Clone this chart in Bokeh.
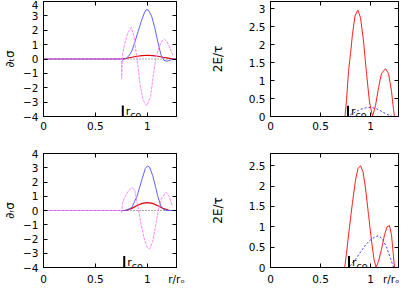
from bokeh.plotting import figure
from bokeh.models import FixedTicker, LinearAxis, Range1d
from bokeh.layouts import column, row
from bokeh.embed import file_html
from bokeh.resources import INLINE
from bokeh.core.properties import value

FONT = "DejaVu Sans"
X_MAX = 1.28

# ---------------- data ----------------
# top-left: d_t sigma
tl_blue_x = [0, 0.75, 0.76, 0.78, 0.80, 0.82, 0.85, 0.88, 0.91, 0.94, 0.97, 0.99, 1.01, 1.04, 1.07, 1.10, 1.13, 1.16, 1.19, 1.22, 1.25, 1.28]
tl_blue_y = [0, 0, -0.1, 0, 0.08, 0.2, 0.55, 1.2, 1.9, 2.6, 3.2, 3.44, 3.4, 3.0, 2.2, 1.2, 0.3, -0.1, -0.15, -0.08, 0, 0]
tl_red_x = [0, 0.75, 0.80, 0.85, 0.90, 0.95, 1.00, 1.05, 1.10, 1.15, 1.20, 1.25, 1.28]
tl_red_y = [0, 0, 0.05, 0.12, 0.19, 0.24, 0.26, 0.24, 0.19, 0.12, 0.06, 0, 0]
tl_mag_x = [0, 0.75, 0.752, 0.76, 0.78, 0.81, 0.845, 0.87, 0.90, 0.93, 0.96, 0.995, 1.03, 1.06, 1.08, 1.11, 1.14, 1.165, 1.19, 1.22, 1.25]
tl_mag_y = [0, 0, -1.35, 0.3, 1.0, 1.8, 2.2, 1.6, 0, -1.8, -2.9, -3.25, -2.6, -1.0, 0, 0.8, 1.25, 1.37, 1.2, 0.7, 0.2]
tl_rco_x = [0.763]
tl_rco_y0 = [-4.0]
tl_rco_y1 = [-3.24]

# top-right: 2E/tau
tr_red_x = [0, 0.745, 0.76, 0.78, 0.80, 0.82, 0.845, 0.874, 0.90, 0.93, 0.96, 0.99, 1.02, 1.05, 1.08, 1.11, 1.15, 1.18, 1.21, 1.23, 1.24, 1.28]
tr_red_y = [0, 0, 0.45, 1.25, 1.75, 2.3, 2.8, 2.96, 2.75, 2.1, 1.2, 0.4, 0, 0.3, 0.8, 1.2, 1.33, 1.2, 0.7, 0.2, 0, 0]
tr_blue_x = [0, 0.76, 0.80, 0.85, 0.90, 0.95, 1.00, 1.05, 1.10, 1.15, 1.20, 1.22, 1.28]
tr_blue_y = [0, 0, 0.05, 0.13, 0.2, 0.24, 0.25, 0.23, 0.16, 0.08, 0.02, 0, 0]
tr_rco_x = [0.775]
tr_rco_y0 = [0.0]
tr_rco_y1 = [0.3]

# bottom-left: d_r sigma
bl_blue_x = [0, 0.76, 0.78, 0.81, 0.85, 0.90, 0.95, 0.98, 1.00, 1.02, 1.05, 1.08, 1.10, 1.13, 1.16, 1.20, 1.28]
bl_blue_y = [0, 0, 0, 0.05, 0.22, 1.0, 2.24, 2.95, 3.12, 3.05, 2.47, 1.6, 1.0, 0.3, 0.05, 0, 0]
bl_red_x = [0, 0.78, 0.80, 0.85, 0.90, 0.95, 1.00, 1.05, 1.10, 1.15, 1.20, 1.22, 1.28]
bl_red_y = [0, 0, 0.03, 0.15, 0.35, 0.5, 0.55, 0.5, 0.33, 0.15, 0.03, 0, 0]
bl_mag_x = [0, 0.75, 0.752, 0.76, 0.78, 0.81, 0.835, 0.858, 0.88, 0.91, 0.94, 0.97, 1.00, 1.02, 1.05, 1.08, 1.11, 1.14, 1.18, 1.21, 1.24]
bl_mag_y = [0, 0, -0.15, 0.5, 0.9, 1.3, 1.52, 1.6, 1.35, 0.2, -1.0, -2.0, -2.6, -2.7, -2.2, -1.0, 0.2, 0.9, 1.28, 1.0, 0.3]
bl_rco_x = [0.777]
bl_rco_y0 = [-4.0]
bl_rco_y1 = [-3.2]

# bottom-right: 2E/tau
br_red_x = [0, 0.742, 0.76, 0.785, 0.82, 0.85, 0.875, 0.90, 0.925, 0.95, 0.98, 1.01, 1.035, 1.056, 1.08, 1.11, 1.14, 1.165, 1.19, 1.21, 1.225, 1.24, 1.28]
br_red_y = [0, 0, 0.35, 0.9, 1.6, 2.15, 2.43, 2.5, 2.35, 1.95, 1.3, 0.65, 0.2, 0, 0.15, 0.45, 0.8, 1.0, 1.03, 0.8, 0.4, 0, 0]
br_blue_x = [0, 0.77, 0.80, 0.85, 0.90, 0.95, 1.00, 1.05, 1.083, 1.12, 1.16, 1.20, 1.232, 1.28]
br_blue_y = [0, 0, 0.05, 0.2, 0.38, 0.55, 0.68, 0.76, 0.78, 0.7, 0.5, 0.22, 0, 0]
br_rco_x = [0.785]
br_rco_y0 = [0.0]
br_rco_y1 = [0.285]

x_ticks = [0, 0.5, 1]
x_ticks_bottom = [0, 0.5, 1, X_MAX]
x_tick_labels_bottom = {X_MAX: "r/rₒ"}
y_ticks_sigma = [-4, -3, -2, -1, 0, 1, 2, 3, 4]
y_ticks_tr = [0, 0.5, 1, 1.5, 2, 2.5, 3]
y_ticks_br = [0, 0.5, 1, 1.5, 2, 2.5]
zero_x = [0, X_MAX]
zero_y = [0, 0]


def make_fig(width, height, mbl, mbr, mbt, mbb, yr, yticks, xticks, overrides, ylabel, lab_standoff):
    p = figure(width=width, height=height, output_backend="svg", toolbar_location=None,
               x_range=Range1d(0, X_MAX), y_range=Range1d(*yr),
               min_border_left=mbl, min_border_right=mbr, min_border_top=mbt, min_border_bottom=mbb,
               background_fill_color="white", border_fill_color="white")
    p.grid.visible = False
    p.outline_line_color = "black"
    p.outline_line_width = 1
    p.xaxis.ticker = FixedTicker(ticks=xticks)
    p.yaxis.ticker = FixedTicker(ticks=yticks)
    if overrides:
        p.xaxis.major_label_overrides = overrides
    for ax in p.xaxis + p.yaxis:
        ax.major_tick_in = 4
        ax.major_tick_out = 0
        ax.minor_tick_in = 0
        ax.minor_tick_out = 0
        ax.major_label_standoff = 5
        ax.major_label_text_font = FONT
        ax.major_label_text_font_size = "10.5px"
        ax.major_label_text_color = "black"
        ax.axis_line_color = "black"
        ax.major_tick_line_color = "black"
    p.yaxis.axis_label = ylabel
    p.yaxis.axis_label_text_font = FONT
    p.yaxis.axis_label_text_font_size = "12px"
    p.yaxis.axis_label_text_font_style = "normal"
    p.yaxis.axis_label_text_color = "black"
    p.yaxis.axis_label_standoff = lab_standoff
    for side, tk in (("right", yticks), ("above", xticks)):
        ax = LinearAxis(ticker=FixedTicker(ticks=tk), major_label_text_font_size="0px",
                        major_label_standoff=0, major_tick_in=4, major_tick_out=0,
                        minor_tick_in=0, minor_tick_out=0, axis_line_color="black",
                        major_tick_line_color="black")
        ax.major_label_overrides = {t: "" for t in tk}
        p.add_layout(ax, side)
    return p


def rco(p, xs, y0, y1, ybase):
    p.segment(x0=xs, y0=y0, x1=xs, y1=y1, line_color="black", line_width=2)
    p.text(x=xs, y=[ybase], text=["r"], x_offset=3, y_offset=-5.5,
           text_font=value(FONT), text_font_size="11px", text_baseline="alphabetic",
           text_align="left", text_color="black")
    p.text(x=xs, y=[ybase], text=["co"], x_offset=7.5, y_offset=-2.2,
           text_font=value(FONT), text_font_size="9.5px", text_baseline="alphabetic",
           text_align="left", text_color="black")


MAG = "#ff88ff"
BLUE = "#6060ff"
RED = "#e00000"

# top-left
p1 = make_fig(200, 143, 33, 24, 1, 27, (-4, 4), y_ticks_sigma, x_ticks, None, "∂ₜσ", 3)
p1.line(zero_x, zero_y, line_color="#555555", line_dash="1 2", line_width=1)
p1.line(tl_red_x, tl_red_y, line_color=RED, line_width=1.2)
p1.line(tl_blue_x, tl_blue_y, line_color=BLUE, line_width=1)
p1.line(tl_mag_x, tl_mag_y, line_color=MAG, line_width=1, line_dash="3 1")
rco(p1, tl_rco_x, tl_rco_y0, tl_rco_y1, -4.0)

# top-right
p2 = make_fig(199, 143, 70, 1, 1, 27, (0, 3.2), y_ticks_tr, x_ticks, None, "2E/τ", 21)
p2.line(tr_blue_x, tr_blue_y, line_color="#3333ff", line_dash="2 2", line_width=1)
p2.line(tr_red_x, tr_red_y, line_color="#ff2020", line_width=1)
rco(p2, tr_rco_x, tr_rco_y0, tr_rco_y1, 0.0)

# bottom-left
p3 = make_fig(200, 144, 33, 24, 10, 18, (-4, 4), y_ticks_sigma, x_ticks_bottom, x_tick_labels_bottom, "∂ᵣσ", 3)
p3.line(zero_x, zero_y, line_color="#555555", line_dash="1 2", line_width=1)
p3.line(bl_red_x, bl_red_y, line_color=RED, line_width=1.2)
p3.line(bl_blue_x, bl_blue_y, line_color=BLUE, line_width=1)
p3.line(bl_mag_x, bl_mag_y, line_color=MAG, line_width=1, line_dash="3 1")
rco(p3, bl_rco_x, bl_rco_y0, bl_rco_y1, -4.0)

# bottom-right
p4 = make_fig(199, 144, 70, 1, 10, 18, (0, 2.8), y_ticks_br, x_ticks_bottom, x_tick_labels_bottom, "2E/τ", 21)
p4.line(br_blue_x, br_blue_y, line_color="#3333ff", line_dash="2 2", line_width=1)
p4.line(br_red_x, br_red_y, line_color="#ff2020", line_width=1)
rco(p4, br_rco_x, br_rco_y0, br_rco_y1, 0.0)

layout = column(row(p1, p2), row(p3, p4))
open("out.html", "w").write(file_html(layout, INLINE))
